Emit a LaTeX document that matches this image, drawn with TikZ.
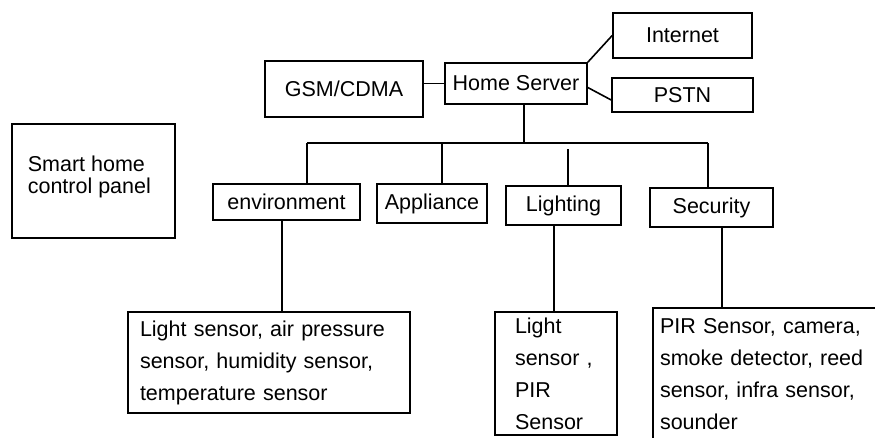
\documentclass[tikz,border=0pt]{standalone}
\usepackage{fontspec}
\setmainfont{Liberation Sans}
\usetikzlibrary{positioning}

\begin{document}
\begin{tikzpicture}[x=1pt, y=-1pt,
			line width=1.6pt,
			font=\fontsize{21.5}{24}\selectfont,
			box/.style={draw, rectangle, inner sep=0pt},
			list/.style={box, align=left, inner xsep=#1, font=\fontsize{21.5}{32}\selectfont}]
			\useasboundingbox (0,0) rectangle (875,437);
			\clip (0,0) rectangle (875,437);
			% top row
			\node (internet) [box, minimum width=139pt, minimum height=45pt] at (682.5,35.5) {Internet};
			\node (pstn) [box, minimum width=141pt, minimum height=34pt] at (682.5,95) {PSTN};
			\node (server) [box, minimum width=142pt, minimum height=41pt] at (516,83.5) {Home Server};
			\node (gsm) [box, minimum width=158pt, minimum height=56pt] at (344,89) {GSM/CDMA};
			\node (panel) [box, minimum width=163pt, minimum height=114pt] at (93.5,181) {};
			\node (paneltext) [anchor=north west, inner sep=0pt, align=left, font=\fontsize{21.5}{22}\selectfont] at (27,155) {Smart home\\control panel};
			% groups
			\node (env) [box, minimum width=147pt, minimum height=36pt] at (286.5,202) {environment};
			\node (appl) [box, minimum width=110pt, minimum height=39pt] at (432,203.5) {Appliance};
			\node (light) [box, minimum width=115pt, minimum height=39pt] at (563.5,205.5) {Lighting};
			\node (secur) [box, minimum width=123pt, minimum height=39pt] at (711.5,207.5) {Security};
			% sensor lists
			\node (envlist) [list=12pt, text width=258pt, minimum height=101pt] at (269,362.5) {Light sensor, air pressure\\sensor, humidity sensor,\\temperature sensor};
			\node (lightlist) [list=20pt, text width=82pt, minimum height=123pt] at (556,373.5) {Light\\sensor ,\\PIR\\Sensor};
			\node (securlist) [list=7pt, text width=226pt, minimum height=132pt] at (773,374) {PIR Sensor, camera,\\smoke detector, reed\\sensor, infra sensor,\\sounder};
			% bus
			\coordinate (busl) at (307,143);
			\coordinate (busr) at (708,143);
			\coordinate (bustop) at (524,143);
			\coordinate (lighttop) at (568,149);
			\draw (busl) -- (busr);
			\draw (server.south -| bustop) -- (bustop);
			\draw (busl) -- (busl |- env.north);
			\draw (442,143) -- (442,143 |- appl.north);
			\draw (lighttop) -- (lighttop |- light.north);
			\draw (busr) -- (busr |- secur.north);
			% links
			\draw (gsm.east |- server.west) -- (server.west);
			\draw (server.north east) -- (internet.west);
			\draw ([yshift=-4pt]server.east) -- ([yshift=-5pt]pstn.west);
			\draw ([xshift=-4.5pt]env.south) -- ([xshift=-4.5pt]env.south |- envlist.north);
			\draw ([xshift=-9.5pt]light.south) -- ([xshift=-9.5pt]light.south |- lightlist.north);
			\draw ([xshift=10.5pt]secur.south) -- ([xshift=10.5pt]secur.south |- securlist.north);
		\end{tikzpicture}
\end{document}
